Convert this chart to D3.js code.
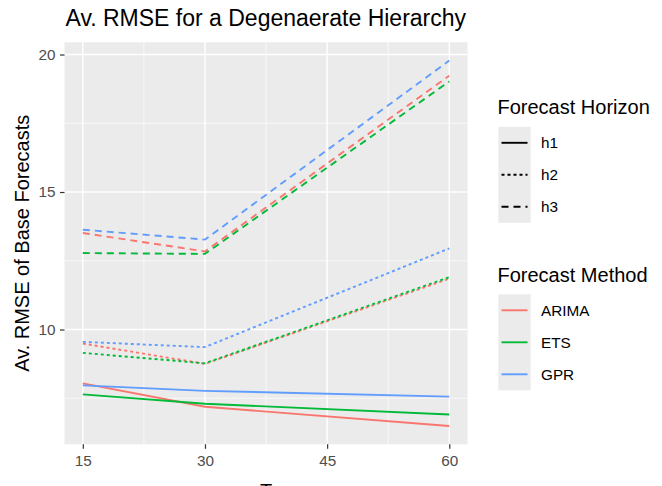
<!DOCTYPE html>
<html>
<head>
<meta charset="utf-8">
<script src="https://cdn.jsdelivr.net/npm/d3@7"></script>
<style>
  body { margin: 0; background: #fff; }
  text { font-family: "Liberation Sans", Arial, sans-serif; }
</style>
</head>
<body>
<div id="chart"></div>
<script>
// data
var periods = [15, 30, 60];
var methods = ['ARIMA', 'ETS', 'GPR'];
var horizons = ['h1', 'h2', 'h3'];
var xTicks = [15, 30, 45, 60];
var yTicks = [10, 15, 20];

var arimaH1 = [8.04, 7.19, 6.49];
var arimaH2 = [9.49, 8.75, 11.85];
var arimaH3 = [13.51, 12.84, 19.23];
var etsH1 = [7.64, 7.30, 6.91];
var etsH2 = [9.15, 8.77, 11.90];
var etsH3 = [12.78, 12.75, 19.02];
var gprH1 = [7.97, 7.77, 7.56];
var gprH2 = [9.55, 9.36, 12.95];
var gprH3 = [13.63, 13.27, 19.78];

var seriesList = [
    { method: 'ARIMA', horizon: 'h1', values: arimaH1 },
    { method: 'ARIMA', horizon: 'h2', values: arimaH2 },
    { method: 'ARIMA', horizon: 'h3', values: arimaH3 },
    { method: 'ETS', horizon: 'h1', values: etsH1 },
    { method: 'ETS', horizon: 'h2', values: etsH2 },
    { method: 'ETS', horizon: 'h3', values: etsH3 },
    { method: 'GPR', horizon: 'h1', values: gprH1 },
    { method: 'GPR', horizon: 'h2', values: gprH2 },
    { method: 'GPR', horizon: 'h3', values: gprH3 }
];

var w = 662, h = 486;
var panel = { left: 64.5, top: 42.3, right: 467.6, bottom: 444.3 };

var color = d3.scaleOrdinal().domain(methods).range(['#F8766D', '#00BA38', '#619CFF']);
var dash = d3.scaleOrdinal().domain(horizons).range(['none', '3,3', '7,5']);

var allVals = d3.merge(seriesList.map(function(s) { return s.values; }));
var yMin = d3.min(allVals), yMax = d3.max(allVals);
var yPad = (yMax - yMin) * 0.05;
var xPad = (60 - 15) * 0.05;

var x = d3.scaleLinear().domain([15 - xPad, 60 + xPad]).range([panel.left, panel.right]);
var y = d3.scaleLinear().domain([yMin - yPad, yMax + yPad]).range([panel.bottom, panel.top]);

var svg = d3.select('#chart').append('svg')
    .attr('width', w)
    .attr('height', h);

// panel background
svg.append('rect')
    .attr('x', panel.left).attr('y', panel.top)
    .attr('width', panel.right - panel.left)
    .attr('height', panel.bottom - panel.top)
    .attr('fill', '#EBEBEB');

// minor grid
var xMinor = [22.5, 37.5, 52.5];
var yMinor = [7.5, 12.5, 17.5];
svg.selectAll('.xminor').data(xMinor).enter().append('line')
    .attr('x1', function(d) { return x(d); }).attr('x2', function(d) { return x(d); })
    .attr('y1', panel.top).attr('y2', panel.bottom)
    .attr('stroke', '#fff').attr('stroke-width', 0.7);
svg.selectAll('.yminor').data(yMinor).enter().append('line')
    .attr('y1', function(d) { return y(d); }).attr('y2', function(d) { return y(d); })
    .attr('x1', panel.left).attr('x2', panel.right)
    .attr('stroke', '#fff').attr('stroke-width', 0.7);

// major grid
svg.selectAll('.xmajor').data(xTicks).enter().append('line')
    .attr('x1', function(d) { return x(d); }).attr('x2', function(d) { return x(d); })
    .attr('y1', panel.top).attr('y2', panel.bottom)
    .attr('stroke', '#fff').attr('stroke-width', 1.4);
svg.selectAll('.ymajor').data(yTicks).enter().append('line')
    .attr('y1', function(d) { return y(d); }).attr('y2', function(d) { return y(d); })
    .attr('x1', panel.left).attr('x2', panel.right)
    .attr('stroke', '#fff').attr('stroke-width', 1.4);

// axes
var xAxis = d3.axisBottom(x).tickValues(xTicks).tickSize(4.5).tickPadding(6);
var yAxis = d3.axisLeft(y).tickValues(yTicks).tickSize(4.5).tickPadding(4.5);

var gx = svg.append('g').attr('transform', 'translate(0,' + panel.bottom + ')').call(xAxis);
var gy = svg.append('g').attr('transform', 'translate(' + panel.left + ',0)').call(yAxis);
[gx, gy].forEach(function(g) {
    g.select('.domain').remove();
    g.selectAll('line').attr('stroke', '#333').attr('stroke-width', 1.2);
    g.selectAll('text').attr('fill', '#4D4D4D').style('font-size', '15.3px')
        .style('font-family', '"Liberation Sans", Arial, sans-serif');
});

// lines
var line = d3.line()
    .x(function(d, i) { return x(periods[i]); })
    .y(function(d) { return y(d); });

svg.append('g').selectAll('path')
    .data(seriesList)
    .enter()
    .append('path')
    .attr('d', function(d) { return line(d.values); })
    .attr('fill', 'none')
    .attr('stroke', function(d) { return color(d.method); })
    .attr('stroke-width', 1.9)
    .attr('stroke-dasharray', function(d) { return dash(d.horizon); });

// titles
svg.append('text')
    .attr('x', 65.5).attr('y', 26.3)
    .style('font-size', '23px')
    .attr('fill', '#000')
    .text('Av. RMSE for a Degenaerate Hierarchy');

svg.append('text')
    .attr('x', (panel.left + panel.right) / 2).attr('y', 497.5)
    .attr('text-anchor', 'middle')
    .style('font-size', '20px')
    .text('T');

svg.append('text')
    .attr('transform', 'translate(29,' + ((panel.top + panel.bottom) / 2) + ') rotate(-90)')
    .attr('text-anchor', 'middle')
    .style('font-size', '20px')
    .text('Av. RMSE of Base Forecasts');

// legends
function drawLegend(top, title, keys, styleKey) {
    var g = svg.append('g');
    g.append('text')
        .attr('x', 497.5).attr('y', top)
        .style('font-size', '20px')
        .text(title);
    var boxTop = top + 12.8;
    var rowH = 32;
    g.append('rect')
        .attr('x', 498.3).attr('y', boxTop)
        .attr('width', 32.4).attr('height', keys.length * rowH)
        .attr('fill', '#EBEBEB');
    keys.forEach(function(k, i) {
        var cy = boxTop + rowH / 2 + i * rowH;
        var ln = g.append('line')
            .attr('x1', 501.5).attr('x2', 527.5)
            .attr('y1', cy).attr('y2', cy)
            .attr('stroke-width', 1.9);
        styleKey(ln, k);
        g.append('text')
            .attr('x', 541).attr('y', cy + 5.5)
            .style('font-size', '15.3px')
            .text(k);
    });
}

drawLegend(114, 'Forecast Horizon', horizons, function(ln, k) {
    ln.attr('stroke', '#000').attr('stroke-dasharray', dash(k));
});
drawLegend(281.5, 'Forecast Method', methods, function(ln, k) {
    ln.attr('stroke', color(k));
});
</script>
</body>
</html>
